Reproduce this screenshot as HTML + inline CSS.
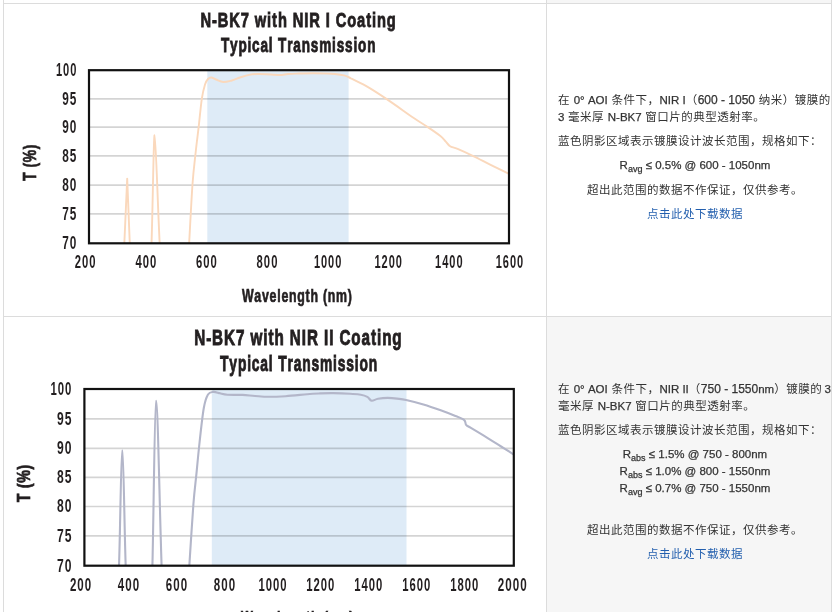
<!DOCTYPE html>
<html lang="zh-CN">
<head>
<meta charset="utf-8">
<title>N-BK7 NIR Coating Transmission</title>
<style>
html,body{margin:0;padding:0;background:#fff;}
body{width:834px;height:612px;overflow:hidden;position:relative;
 font-family:"Liberation Sans","Noto Sans CJK SC",sans-serif;font-size:12px;line-height:17px;color:#333;}
.desc{font-size:11.5px;letter-spacing:0.5px;}
table.graphs{position:absolute;left:3px;top:-21px;border-collapse:collapse;table-layout:fixed;width:829px;}
table.graphs td{border:1px solid #dcdcdc;padding:0;vertical-align:top;background:#fff;}
table.graphs td.img{width:542px;}
table.graphs td.txt{width:284px;}
table.graphs td.alt{background:#f6f6f6;}
svg.plot{display:block;}
.desc{margin-left:11px;width:274px;white-space:nowrap;}
.desc p{margin:0 0 7px 0;}
.desc p.c{text-align:center;}
.desc sub{font-size:9px;line-height:0;vertical-align:-3px;}
.desc .en{font-size:11.5px;letter-spacing:0;-webkit-text-stroke:0.25px #333;}
.desc .num{font-size:12px;letter-spacing:0;-webkit-text-stroke:0.25px #333;}
.desc a{color:#235fae;text-decoration:none;}
</style>
</head>
<body>
<table class="graphs">
<tr style="height:24px"><td class="img"></td><td class="txt alt"></td></tr>
<tr style="height:313px">
<td class="img">
<svg class="plot" width="542" height="312" viewBox="4 4 542 312" font-family='"Liberation Sans", "DejaVu Sans", sans-serif' fill="#231f20" style="font-kerning:none">
<defs><clipPath id="cp1"><rect x="89.0" y="70.2" width="420.0" height="173.1"/></clipPath></defs>
<rect x="207.3" y="70.2" width="141.3" height="173.1" fill="#deebf7"/>
<line x1="89.0" y1="98.90" x2="509.0" y2="98.90" stroke="#000" stroke-opacity="0.17" stroke-width="1.7"/>
<line x1="89.0" y1="127.20" x2="509.0" y2="127.20" stroke="#000" stroke-opacity="0.17" stroke-width="1.7"/>
<line x1="89.0" y1="155.90" x2="509.0" y2="155.90" stroke="#000" stroke-opacity="0.17" stroke-width="1.7"/>
<line x1="89.0" y1="185.20" x2="509.0" y2="185.20" stroke="#000" stroke-opacity="0.17" stroke-width="1.7"/>
<line x1="89.0" y1="213.90" x2="509.0" y2="213.90" stroke="#000" stroke-opacity="0.17" stroke-width="1.7"/>
<g clip-path="url(#cp1)" fill="none" stroke="#fad8bc" stroke-width="1.9" stroke-linejoin="round">
<path d="M124.3,244 L127.2,178.6 L129.8,244"/>
<path d="M151.5,244 C152.6,215 153.6,135 154.6,135.2 C155.8,135.4 157.5,200 159.7,244"/>
<path d="M189.1,244.0 C189.7,234.0 191.4,199.5 192.5,184.2 C193.6,168.9 194.7,161.6 195.7,152.0 C196.7,142.4 197.7,135.6 198.7,126.7 C199.7,117.8 200.8,105.8 201.8,98.8 C202.9,91.8 204.0,87.8 205.0,84.5 C206.0,81.2 206.9,80.2 208.0,79.0 C209.1,77.8 210.0,77.4 211.3,77.5 C212.6,77.6 214.0,78.8 216.0,79.5 C218.0,80.2 220.6,81.8 223.2,82.0 C225.8,82.2 229.0,81.2 231.8,80.5 C234.6,79.8 237.1,78.4 240.0,77.5 C242.9,76.6 246.2,75.5 249.0,74.9 C251.8,74.3 254.1,74.1 257.0,74.0 C259.9,73.9 262.6,74.0 266.3,74.2 C270.0,74.4 275.7,75.0 279.3,75.0 C282.9,75.0 285.1,74.2 288.0,74.0 C290.9,73.8 292.3,73.7 296.5,73.6 C300.7,73.5 307.2,73.3 313.0,73.3 C318.8,73.3 325.8,73.4 331.0,73.8 C336.2,74.2 340.7,74.7 344.0,75.4 C347.3,76.2 347.2,76.5 350.8,78.3 C354.4,80.0 360.0,82.5 365.9,85.9 C371.8,89.3 378.5,93.6 386.4,98.9 C394.3,104.2 406.6,113.1 413.4,117.8 C420.2,122.5 422.9,123.9 427.4,126.9 C431.9,129.9 437.3,133.6 440.4,136.0 C443.5,138.4 444.2,139.9 445.8,141.6 C447.4,143.3 448.1,145.1 450.1,146.3 C452.1,147.5 453.7,147.2 457.6,148.9 C461.6,150.6 468.2,153.6 473.8,156.3 C479.4,159.0 485.2,162.2 491.1,165.1 C497.0,168.0 506.0,172.4 509.0,173.8"/>
</g>
<rect x="89.0" y="70.2" width="420.0" height="173.1" fill="none" stroke="#111" stroke-width="2.2"/>
<text transform="translate(200.40,27.40) scale(0.6993,1)" font-size="21.0" font-weight="bold" letter-spacing="1.30" stroke="#231f20" stroke-width="0.90">N-BK7 with NIR I Coating</text>
<text transform="translate(220.90,51.60) scale(0.6461,1)" font-size="21.0" font-weight="bold" letter-spacing="1.30" stroke="#231f20" stroke-width="0.90">Typical Transmission</text>
<text transform="translate(55.90,75.90) scale(0.6200,1)" font-size="17.9" font-weight="bold" letter-spacing="1.60">100</text>
<text transform="translate(62.20,104.60) scale(0.6602,1)" font-size="17.9" font-weight="bold" letter-spacing="1.60">95</text>
<text transform="translate(62.20,132.90) scale(0.6602,1)" font-size="17.9" font-weight="bold" letter-spacing="1.60">90</text>
<text transform="translate(62.20,161.60) scale(0.6602,1)" font-size="17.9" font-weight="bold" letter-spacing="1.60">85</text>
<text transform="translate(62.20,190.90) scale(0.6602,1)" font-size="17.9" font-weight="bold" letter-spacing="1.60">80</text>
<text transform="translate(62.20,219.60) scale(0.6602,1)" font-size="17.9" font-weight="bold" letter-spacing="1.60">75</text>
<text transform="translate(62.20,249.00) scale(0.6602,1)" font-size="17.9" font-weight="bold" letter-spacing="1.60">70</text>
<text transform="translate(74.80,267.80) scale(0.6291,1)" font-size="17.9" font-weight="bold" letter-spacing="1.60">200</text>
<text transform="translate(135.40,267.80) scale(0.6291,1)" font-size="17.9" font-weight="bold" letter-spacing="1.60">400</text>
<text transform="translate(196.00,267.80) scale(0.6291,1)" font-size="17.9" font-weight="bold" letter-spacing="1.60">600</text>
<text transform="translate(256.60,267.80) scale(0.6291,1)" font-size="17.9" font-weight="bold" letter-spacing="1.60">800</text>
<text transform="translate(313.88,267.80) scale(0.6152,1)" font-size="17.9" font-weight="bold" letter-spacing="1.60">1000</text>
<text transform="translate(374.47,267.80) scale(0.6152,1)" font-size="17.9" font-weight="bold" letter-spacing="1.60">1200</text>
<text transform="translate(435.07,267.80) scale(0.6152,1)" font-size="17.9" font-weight="bold" letter-spacing="1.60">1400</text>
<text transform="translate(495.67,267.80) scale(0.6152,1)" font-size="17.9" font-weight="bold" letter-spacing="1.60">1600</text>
<g transform="translate(35.5,162.8) rotate(-90)"><text transform="translate(-18.30,0.00) scale(0.7796,1)" font-size="17.9" font-weight="bold" letter-spacing="0.80" stroke="#231f20" stroke-width="0.70">T (%)</text>
</g>
<text transform="translate(241.95,301.90) scale(0.6899,1)" font-size="17.9" font-weight="bold" letter-spacing="1.10" stroke="#231f20" stroke-width="0.70">Wavelength (nm)</text>
</svg>
</td>
<td class="txt"><div class="desc" style="padding-top:88px">
<p>在 <span class="en">0° AOI</span> 条件下，<span class="en">NIR I</span>（<span class="num">600 - 1050</span> 纳米）镀膜的<br><span class="en">3</span> 毫米厚 <span class="en">N-BK7</span> 窗口片的典型透射率。</p>
<p>蓝色阴影区域表示镀膜设计波长范围，规格如下：</p>
<p class="c en" style="margin-bottom:8px">R<sub>avg</sub> ≤ 0.5% @ 600 - 1050nm</p>
<p class="c">超出此范围的数据不作保证，仅供参考。</p>
<p class="c"><a href="#">点击此处下载数据</a></p>
</div></td>
</tr>
<tr style="height:313px">
<td class="img">
<svg class="plot" width="542" height="312" viewBox="4 317 542 312" font-family='"Liberation Sans", "DejaVu Sans", sans-serif' fill="#231f20" style="font-kerning:none">
<defs><clipPath id="cp2"><rect x="84.4" y="389.0" width="429.4" height="176.7"/></clipPath></defs>
<rect x="211.8" y="389.0" width="194.7" height="176.7" fill="#deebf7"/>
<line x1="84.4" y1="418.90" x2="513.8" y2="418.90" stroke="#000" stroke-opacity="0.17" stroke-width="1.7"/>
<line x1="84.4" y1="448.40" x2="513.8" y2="448.40" stroke="#000" stroke-opacity="0.17" stroke-width="1.7"/>
<line x1="84.4" y1="477.30" x2="513.8" y2="477.30" stroke="#000" stroke-opacity="0.17" stroke-width="1.7"/>
<line x1="84.4" y1="506.50" x2="513.8" y2="506.50" stroke="#000" stroke-opacity="0.17" stroke-width="1.7"/>
<line x1="84.4" y1="535.90" x2="513.8" y2="535.90" stroke="#000" stroke-opacity="0.17" stroke-width="1.7"/>
<g clip-path="url(#cp2)" fill="none" stroke="#b3b6c9" stroke-width="2.1" stroke-linejoin="round">
<path d="M119.0,566 C120.3,530 121.0,451 122.3,450.6 C123.6,451 124.4,530 125.7,566"/>
<path d="M152.4,566 C153.6,520 154.6,401.4 156.1,400.9 C157.8,401.4 159.4,500 161.6,566"/>
<path d="M189.3,566.0 C190.0,555.7 192.2,519.7 193.4,504.2 C194.6,488.7 195.5,483.5 196.5,473.1 C197.5,462.7 198.4,452.9 199.6,442.0 C200.8,431.1 202.4,415.9 203.8,408.0 C205.2,400.1 206.4,397.2 208.0,394.5 C209.6,391.8 211.3,392.1 213.3,391.9 C215.3,391.7 217.7,392.8 220.0,393.3 C222.3,393.8 223.7,394.4 227.4,394.7 C231.2,395.0 237.9,394.7 242.5,394.9 C247.1,395.1 250.7,395.7 255.0,396.0 C259.3,396.3 263.3,396.8 268.4,396.8 C273.5,396.8 279.2,396.6 285.7,396.2 C292.2,395.8 301.5,394.7 307.2,394.2 C312.9,393.7 315.7,393.6 320.0,393.4 C324.3,393.2 328.1,393.0 333.1,393.1 C338.1,393.2 345.4,393.5 350.0,393.8 C354.6,394.1 357.9,394.2 360.8,394.7 C363.7,395.2 365.5,395.8 367.3,396.8 C369.1,397.8 369.8,400.4 371.6,400.7 C373.4,401.0 375.3,399.3 378.0,398.8 C380.7,398.3 384.6,397.9 387.8,397.9 C391.0,397.9 393.9,398.2 397.0,398.6 C400.1,399.0 401.7,399.0 406.1,400.0 C410.5,401.0 417.6,402.7 423.4,404.4 C429.2,406.1 435.7,408.4 440.7,410.2 C445.7,412.0 449.7,413.6 453.6,415.2 C457.5,416.8 461.9,418.3 464.0,419.9 C466.1,421.5 465.0,423.6 466.1,424.9 C467.2,426.2 467.2,425.7 470.9,427.9 C474.6,430.1 483.1,435.2 488.1,438.3 C493.1,441.4 496.8,443.8 501.1,446.5 C505.4,449.2 511.7,453.2 513.8,454.5"/>
</g>
<rect x="84.4" y="389.0" width="429.4" height="176.7" fill="none" stroke="#111" stroke-width="2.2"/>
<text transform="translate(194.20,345.10) scale(0.7061,1)" font-size="21.6" font-weight="bold" letter-spacing="1.30" stroke="#231f20" stroke-width="0.90">N-BK7 with NIR II Coating</text>
<text transform="translate(220.10,371.00) scale(0.6401,1)" font-size="21.6" font-weight="bold" letter-spacing="1.30" stroke="#231f20" stroke-width="0.90">Typical Transmission</text>
<text transform="translate(50.49,394.83) scale(0.6212,1)" font-size="18.3" font-weight="bold" letter-spacing="1.60">100</text>
<text transform="translate(56.92,424.73) scale(0.6612,1)" font-size="18.3" font-weight="bold" letter-spacing="1.60">95</text>
<text transform="translate(56.92,454.23) scale(0.6612,1)" font-size="18.3" font-weight="bold" letter-spacing="1.60">90</text>
<text transform="translate(56.92,483.13) scale(0.6612,1)" font-size="18.3" font-weight="bold" letter-spacing="1.60">85</text>
<text transform="translate(56.92,512.33) scale(0.6612,1)" font-size="18.3" font-weight="bold" letter-spacing="1.60">80</text>
<text transform="translate(56.92,541.73) scale(0.6612,1)" font-size="18.3" font-weight="bold" letter-spacing="1.60">75</text>
<text transform="translate(56.92,571.53) scale(0.6612,1)" font-size="18.3" font-weight="bold" letter-spacing="1.60">70</text>
<text transform="translate(69.89,590.60) scale(0.6303,1)" font-size="18.3" font-weight="bold" letter-spacing="1.60">200</text>
<text transform="translate(117.86,590.60) scale(0.6303,1)" font-size="18.3" font-weight="bold" letter-spacing="1.60">400</text>
<text transform="translate(165.83,590.60) scale(0.6303,1)" font-size="18.3" font-weight="bold" letter-spacing="1.60">600</text>
<text transform="translate(213.80,590.60) scale(0.6303,1)" font-size="18.3" font-weight="bold" letter-spacing="1.60">800</text>
<text transform="translate(258.38,590.60) scale(0.6165,1)" font-size="18.3" font-weight="bold" letter-spacing="1.60">1000</text>
<text transform="translate(306.35,590.60) scale(0.6165,1)" font-size="18.3" font-weight="bold" letter-spacing="1.60">1200</text>
<text transform="translate(354.32,590.60) scale(0.6165,1)" font-size="18.3" font-weight="bold" letter-spacing="1.60">1400</text>
<text transform="translate(402.29,590.60) scale(0.6165,1)" font-size="18.3" font-weight="bold" letter-spacing="1.60">1600</text>
<text transform="translate(450.26,590.60) scale(0.6165,1)" font-size="18.3" font-weight="bold" letter-spacing="1.60">1800</text>
<text transform="translate(497.82,590.60) scale(0.6345,1)" font-size="18.3" font-weight="bold" letter-spacing="1.60">2000</text>
<g transform="translate(29.9,483.5) rotate(-90)"><text transform="translate(-18.65,0.00) scale(0.7800,1)" font-size="18.3" font-weight="bold" letter-spacing="0.80" stroke="#231f20" stroke-width="0.70">T (%)</text>
</g>
<text transform="translate(240.94,624.20) scale(0.6912,1)" font-size="18.3" font-weight="bold" letter-spacing="1.10" stroke="#231f20" stroke-width="0.70">Wavelength (nm)</text>
</svg>
</td>
<td class="txt alt"><div class="desc" style="padding-top:64px">
<p>在 <span class="en">0° AOI</span> 条件下，<span class="en">NIR II</span>（<span class="num">750 - 1550</span><span class="en">nm</span>）镀膜的<span class="en" style="margin-left:-1px"> 3</span><br>毫米厚 <span class="en">N-BK7</span> 窗口片的典型透射率。</p>
<p>蓝色阴影区域表示镀膜设计波长范围，规格如下：</p>
<p class="c en" style="margin-bottom:8px">R<sub>abs</sub> ≤ 1.5% @ 750 - 800nm<br>R<sub>abs</sub> ≤ 1.0% @ 800 - 1550nm<br>R<sub>avg</sub> ≤ 0.7% @ 750 - 1550nm</p>
<p class="c"><br>超出此范围的数据不作保证，仅供参考。</p>
<p class="c"><a href="#">点击此处下载数据</a></p>
</div></td>
</tr>
</table>
</body>
</html>
